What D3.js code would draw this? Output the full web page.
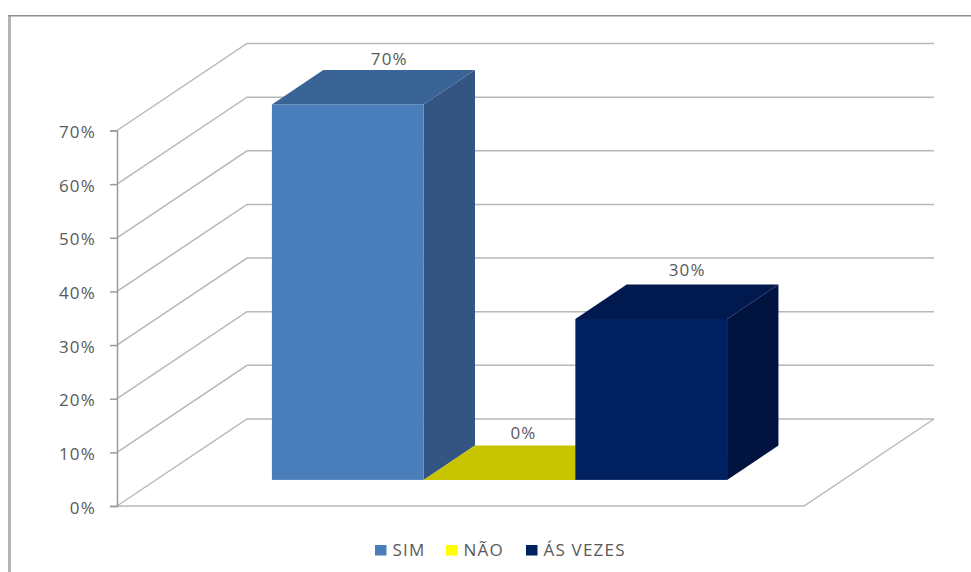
<!DOCTYPE html>
<html lang="pt">
<head>
<meta charset="utf-8">
<style>
  html, body { margin: 0; padding: 0; background: #fff; }
  svg { display: block; }
  text { font-family: "Open Sans", sans-serif; fill: #595959; letter-spacing: 1.2px; }
</style>
<script src="https://cdn.jsdelivr.net/npm/d3@7/dist/d3.min.js"></script>
</head>
<body>
<svg id="chart" width="971" height="572"></svg>
<script>
const categories = ["SIM", "NÃO", "ÁS VEZES"];
const values = [70, 0, 30];
const valueLabels = ["70%", "0%", "30%"];
const tickValues = [0, 10, 20, 30, 40, 50, 60, 70];
const frontColors = ["#4a7ebb", "#c8c400", "#002060"];
const topColors = ["#3b6496", "#c8c400", "#001a50"];
const sideColors = ["#345582", "#a8a500", "#00143f"];
const legendColors = ["#4a7ebb", "#ffff00", "#002060"];
const legendX = [375, 446, 526];
// Label placement relative to the centre of each bar's front face, and above its top face
const labelShiftX = [41.5, 24, 36];
const labelLift = [5, 7, 9];

const svg = d3.select("#chart");

// Oblique projection: depth moves a point right and up
const wallDx = 130, wallDy = -87;
const floorLeft = 117, floorRight = 804;
const y = d3.scaleLinear().domain([0, 70]).range([506, 130.5]);
const x = d3.scaleBand().domain(categories).range([floorLeft, floorRight])
  .paddingInner(0).paddingOuter(0.764);
const project = (px, py, d) => [px + wallDx * d, py + wallDy * d];

// Bars stand between these two depth fractions of the floor
const barNear = 0.30, barFar = 0.695;

const gridColor = "#b8b8b8";
const polyline = d3.line();

// Outer frame: lighter, heavier left edge and a thin darker top edge
svg.append("path").attr("d", "M9.5,572V16")
  .attr("fill", "none").attr("stroke", "#b4b4b4").attr("stroke-width", 3);
svg.append("path").attr("d", "M8,15.8H971")
  .attr("fill", "none").attr("stroke", "#8e8e8e").attr("stroke-width", 1.5);

// Gridlines: side wall diagonal then back wall
const grid = svg.append("g").attr("fill", "none").attr("stroke", gridColor).attr("stroke-width", 1.5);
tickValues.forEach(t => {
  grid.append("path").attr("d", polyline([
    [floorLeft, y(t)],
    project(floorLeft, y(t), 1),
    project(floorRight, y(t), 1)
  ]));
});

// Floor front edge and right edge
grid.append("path").attr("d", polyline([
  [floorLeft, y(0)],
  [floorRight, y(0)],
  project(floorRight, y(0), 1)
]));

// Value axis with ticks
const axis = d3.axisLeft(y).tickValues(tickValues).tickFormat(d => d + "%").tickSize(7).tickPadding(14);
const axisG = svg.append("g").attr("transform", `translate(${floorLeft},0)`).call(axis);
axisG.select(".domain").attr("stroke", "#9a9a9a").attr("stroke-width", 1.5);
axisG.selectAll(".tick line").attr("stroke", "#9a9a9a").attr("stroke-width", 1.5);
axisG.selectAll(".tick text").attr("font-size", 17).attr("fill", "#595959")
  .attr("dy", "0.42em")
  .style("font-family", '"Open Sans", sans-serif');

// Bars, drawn left to right so each one covers the earlier side face
const barHeight = v => y(0) - y(v);
const bars = svg.append("g");
const labels = [];
categories.forEach((c, i) => {
  const x0 = x(c), w = x.bandwidth();
  const [fx, fy] = project(x0, y(0), barNear);
  const dx = wallDx * (barFar - barNear), dy = wallDy * (barFar - barNear);
  const h = barHeight(values[i]);
  const g = bars.append("g");
  // side face
  g.append("path").attr("fill", sideColors[i]).attr("d", polyline([
    [fx + w, fy], [fx + w, fy - h], [fx + w + dx, fy - h + dy], [fx + w + dx, fy + dy]
  ]) + "Z");
  // top face
  g.append("path").attr("fill", topColors[i]).attr("d", polyline([
    [fx, fy - h], [fx + w, fy - h], [fx + w + dx, fy - h + dy], [fx + dx, fy - h + dy]
  ]) + "Z");
  // front face
  g.append("rect").attr("x", fx).attr("y", fy - h).attr("width", w).attr("height", h)
    .attr("fill", frontColors[i]);
  labels.push({ cx: fx + w / 2 + labelShiftX[i], ty: fy - h + dy - labelLift[i], text: valueLabels[i] });
});

// Value labels go last so no face hides them
svg.append("g").selectAll("text").data(labels).join("text")
  .attr("x", d => d.cx).attr("y", d => d.ty)
  .attr("text-anchor", "middle").attr("font-size", 17).text(d => d.text);

// Legend
const legend = svg.append("g");
categories.forEach((c, i) => {
  legend.append("rect").attr("x", legendX[i]).attr("y", 545)
    .attr("width", 11.5).attr("height", 10.5).attr("fill", legendColors[i]);
  legend.append("text").attr("x", legendX[i] + 17.5).attr("y", 556)
    .attr("font-size", 17).text(c);
});
</script>
</body>
</html>
